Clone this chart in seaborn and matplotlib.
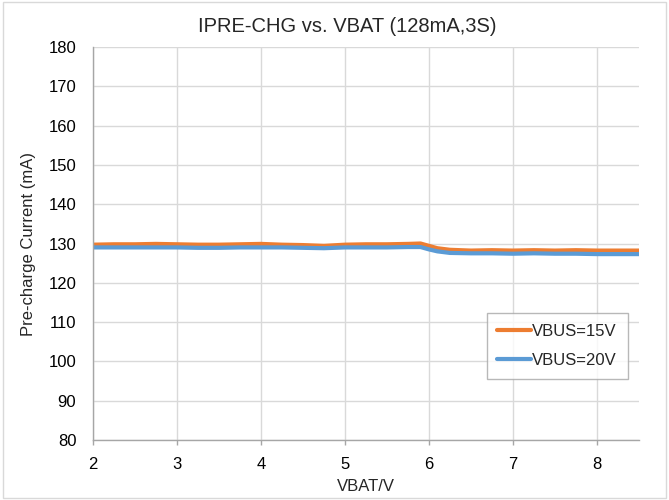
import seaborn as sns
import matplotlib.pyplot as plt
import matplotlib.patches as mpatches
import pandas as pd

sns.set_style("whitegrid")
plt.rcParams['font.family'] = ['Liberation Sans', 'DejaVu Sans']

# ---- data ----
vbat = [2.0, 2.25, 2.5, 2.75, 3.0, 3.25, 3.5, 3.75, 4.0, 4.25, 4.5, 4.75,
        5.0, 5.25, 5.5, 5.75, 5.9, 6.0, 6.1, 6.25, 6.5, 6.75, 7.0, 7.25,
        7.5, 7.75, 8.0, 8.25, 8.5]
i_15v = [129.7, 129.8, 129.8, 129.9, 129.8, 129.7, 129.7, 129.8, 129.9, 129.7,
         129.6, 129.4, 129.7, 129.8, 129.8, 129.9, 130.0, 129.4, 128.8, 128.4,
         128.2, 128.3, 128.2, 128.3, 128.2, 128.3, 128.2, 128.2, 128.2]
i_20v = [129.0, 129.0, 129.0, 129.0, 129.0, 128.9, 128.9, 129.0, 129.0, 129.0,
         128.9, 128.8, 129.0, 129.0, 129.0, 129.1, 129.1, 128.5, 128.0, 127.6,
         127.5, 127.5, 127.4, 127.5, 127.4, 127.4, 127.3, 127.3, 127.3]
series = ["VBUS=15V", "VBUS=20V"]
colors = ["#ED7D31", "#5B9BD5"]

df = pd.concat([
    pd.DataFrame({"VBAT": vbat, "I": i_15v, "Series": series[0]}),
    pd.DataFrame({"VBAT": vbat, "I": i_20v, "Series": series[1]}),
])

fig = plt.figure(figsize=(6.69, 5.0), dpi=100)
ax = fig.add_axes([0.139, 0.12, 0.816, 0.786])

sns.lineplot(data=df, x="VBAT", y="I", hue="Series", palette=colors,
             linewidth=3, ax=ax)

ax.set_xlim(2, 8.5)
ax.set_ylim(80, 180)
ax.set_xticks(range(2, 9))
ax.set_yticks(range(80, 181, 10))
ax.grid(True, color="#d9d9d9", linewidth=1)
for s in ["top", "right"]:
    ax.spines[s].set_visible(False)
for s in ["left", "bottom"]:
    ax.spines[s].set_color("#a6a6a6")
    ax.spines[s].set_linewidth(1)
ax.tick_params(axis="y", labelsize=12, colors="#000000", length=0, pad=12)
ax.tick_params(axis="x", labelsize=12, labelcolor="#000000", color="#a6a6a6",
               bottom=True, direction="out", length=3.5, width=1, pad=9)

ax.set_title("IPRE-CHG vs. VBAT (128mA,3S)", fontsize=14.5, pad=11, x=0.465)
ax.set_xlabel("VBAT/V", fontsize=12, labelpad=5)
ax.set_ylabel("Pre-charge Current (mA)", fontsize=12, labelpad=9)

leg = ax.legend(loc="lower right", bbox_to_anchor=(0.98, 0.155), fontsize=12,
                frameon=True, fancybox=False, handlelength=2.0, handletextpad=0.1,
                labelspacing=0.85, borderpad=0.65, borderaxespad=0, title=None)
leg.get_frame().set_edgecolor("#a6a6a6")
leg.get_frame().set_linewidth(1)

fig.patches.append(mpatches.Rectangle((0.004, 0.004), 0.992, 0.992,
                                      transform=fig.transFigure, fill=False,
                                      edgecolor="#d9d9d9", linewidth=1))

plt.savefig("out.png", dpi=100)
plt.close()
